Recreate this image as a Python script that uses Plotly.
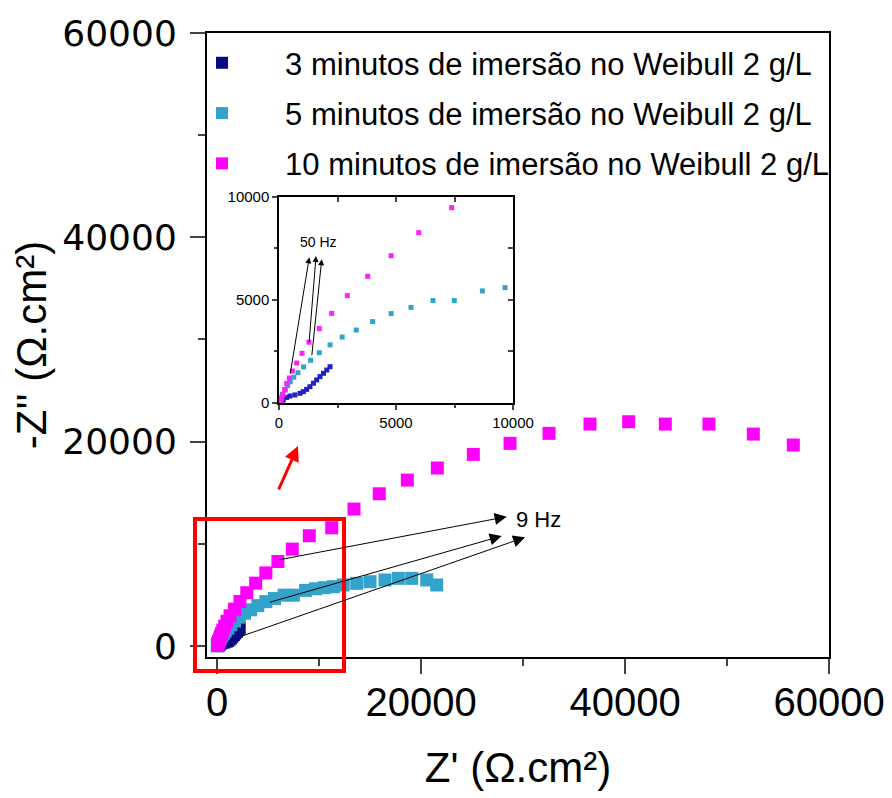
import plotly.graph_objects as go

# ---- data (Z', -Z'') in ohm.cm2 ----
names = ["3 minutos de imersão no Weibull 2 g/L",
         "5 minutos de imersão no Weibull 2 g/L",
         "10 minutos de imersão no Weibull 2 g/L"]

x3 = [50, 110, 180, 330, 470, 680, 900, 1040, 1180, 1320, 1470, 1610, 1750, 1900, 2040, 2180]
y3 = [20, 60, 150, 270, 340, 390, 470, 550, 660, 790, 960, 1120, 1280, 1440, 1600, 1760]

x5 = [20, 70, 140, 270, 370, 480, 630, 810, 1050, 1350, 1720, 2180, 2700, 3300, 4000, 4790,
      5640, 6580, 7490, 8690, 9660, 10500, 11400, 12380, 13700, 15000, 16470, 17780, 19090,
      20560, 21540]
y5 = [70, 230, 420, 630, 840, 1030, 1250, 1470, 1750, 2070, 2440, 2820, 3200, 3540, 3950, 4340,
      4640, 4970, 4970, 5440, 5600, 5700, 5800, 5970, 6130, 6290, 6460, 6620, 6620,
      6460, 5970]

x10 = [70, 115, 170, 240, 330, 440, 570, 755, 983, 1280, 1720, 2250, 2920, 3790, 4790, 5970,
       7380, 9050, 11250, 13430, 15910, 18660, 21600, 25130, 28730, 32550, 36570, 40360,
       43950, 48230, 52580, 56500]
y10 = [70, 230, 420, 660, 950, 1210, 1550, 1940, 2410, 2950, 3610, 4350, 5210, 6150, 7150, 8270,
       9480, 10790, 11570, 13400, 14900, 16240, 17420, 18750, 19830, 20810, 21720, 21950,
       21720, 21720, 20740, 19670]

xs = [x3, x5, x10]
ys = [y3, y5, y10]
colors_main = ["#0a0a80", "#33a3cc", "#ff00ff"]
colors_inset = ["#2020c0", "#33a3cc", "#ff20ff"]

main_ticks = [0, 20000, 40000, 60000]
inset_ticks = [0, 5000, 10000]

fig = go.Figure()

NB = "\u00a0" * 5
for xv, yv, c, n in zip(xs, ys, colors_main, names):
    fig.add_trace(go.Scatter(x=xv, y=yv, mode="markers", name=NB + n,
                             marker=dict(symbol="square", size=13, color=c),
                             legendgroup=n, xaxis="x", yaxis="y"))
for xv, yv, c, n in zip(xs, ys, colors_inset, names):
    fig.add_trace(go.Scatter(x=xv, y=yv, mode="markers", showlegend=False,
                             marker=dict(symbol="square", size=5, color=c),
                             xaxis="x2", yaxis="y2"))
# empty trace to activate mirrored inset axes (top/right, ticks inside)
fig.add_trace(go.Scatter(x=[], y=[], showlegend=False, xaxis="x3", yaxis="y3"))

fig.update_layout(
    width=884, height=790,
    margin=dict(l=199, r=63, t=25, b=141, autoexpand=False),
    paper_bgcolor="white", plot_bgcolor="white",
    showlegend=True,
    legend=dict(x=-0.008, y=0.995, xanchor="left", yanchor="top",
                bgcolor="rgba(0,0,0,0)", borderwidth=0,
                font=dict(family="Liberation Sans, Arial", size=31, color="black"),
                tracegroupgap=7, itemsizing="constant"),
    xaxis=dict(range=[-980, 60000], tickvals=main_ticks, tickformat="d", ticks="outside",
               ticklen=15, tickwidth=2, showline=True, linewidth=2, linecolor="black",
               mirror=True, showgrid=False, zeroline=False, automargin=False,
               ticklabelstandoff=-6,
               tickfont=dict(family="Liberation Sans, Arial", size=40, color="black"),
               minor=dict(dtick=10000, ticks="outside", ticklen=7, tickwidth=2, tick0=0),
               title=dict(text="Z' (Ω.cm²)", standoff=30,
                          font=dict(family="Liberation Sans, Arial", size=42, color="black"))),
    yaxis=dict(range=[-1080, 60000], tickvals=main_ticks, tickformat="d", ticks="outside",
               ticklen=15, tickwidth=2, showline=True, linewidth=2, linecolor="black",
               mirror=True, showgrid=False, zeroline=False, automargin=False,
               ticklabelstandoff=6,
               tickfont=dict(family="DejaVu Sans", size=36, color="black"),
               minor=dict(dtick=10000, ticks="outside", ticklen=7, tickwidth=2, tick0=0),
               title=dict(text="-Z'' (Ω.cm²)", standoff=4,
                          font=dict(family="Liberation Sans, Arial", size=42, color="black"))),
    xaxis2=dict(domain=[0.1158, 0.4920], anchor="y2", range=[0, 10000], tickvals=inset_ticks,
                tickformat="d", ticks="outside", ticklen=5, tickwidth=1.5, showline=True,
                linewidth=1.5, linecolor="black", showgrid=False, zeroline=False,
                automargin=False,
                tickfont=dict(family="Liberation Sans, Arial", size=15, color="black"),
                minor=dict(dtick=2500, ticks="outside", ticklen=3, tickwidth=1.5)),
    yaxis2=dict(domain=[0.4071, 0.7372], anchor="x2", range=[0, 10000], tickvals=inset_ticks,
                tickformat="d", ticks="outside", ticklen=5, tickwidth=1.5, showline=True,
                linewidth=1.5, linecolor="black", showgrid=False, zeroline=False,
                automargin=False,
                tickfont=dict(family="Liberation Sans, Arial", size=15, color="black"),
                minor=dict(dtick=2500, ticks="outside", ticklen=3, tickwidth=1.5)),
    xaxis3=dict(overlaying="x2", side="top", anchor="y3", range=[0, 10000],
                tickvals=[2500, 5000, 7500], ticks="inside", ticklen=5, tickwidth=1.5,
                showticklabels=False, showline=True, linewidth=1.5, linecolor="black",
                showgrid=False, zeroline=False, automargin=False),
    yaxis3=dict(overlaying="y2", side="right", anchor="x3", range=[0, 10000],
                tickvals=[2500, 5000, 7500], ticks="inside", ticklen=5, tickwidth=1.5,
                showticklabels=False, showline=True, linewidth=1.5, linecolor="black",
                showgrid=False, zeroline=False, automargin=False),
)

# inset background
fig.add_shape(type="rect", xref="x2 domain", yref="y2 domain", x0=0, x1=1, y0=0, y1=1,
              fillcolor="white", line=dict(width=0), layer="below")

# red zoom box and arrow
fig.add_shape(type="rect", xref="paper", yref="paper", x0=-0.0193, x1=0.2203,
              y0=-0.0224, y1=0.2212, line=dict(color="#ff0000", width=4))
fig.add_annotation(x=7940, y=19570, ax=5980, ay=15170, xref="x", yref="y",
                   axref="x", ayref="y", showarrow=True, arrowhead=2, arrowsize=1,
                   arrowwidth=3, arrowcolor="#ff0000", text="")

# 9 Hz arrows (main)
arrows_main = [((28400, 12650), (5910, 8400)),
               ((27910, 10760), (5030, 4240)),
               ((30200, 10640), (2255, 900))]
for (hx, hy), (tx, ty) in arrows_main:
    fig.add_annotation(x=hx, y=hy, ax=tx, ay=ty, xref="x", yref="y", axref="x", ayref="y",
                       showarrow=True, arrowhead=2, arrowsize=2.4, arrowwidth=1,
                       arrowcolor="black", text="")
fig.add_annotation(x=31500, y=12400, xref="x", yref="y", text="9 Hz", showarrow=False,
                   xanchor="center", font=dict(family="Liberation Sans, Arial", size=22, color="black"))

# 50 Hz arrows (inset)
arrows_inset = [((1295, 7073), (470, 1360)),
                ((1581, 7136), (1282, 2898)),
                ((1825, 6976), (1397, 2248))]
for (hx, hy), (tx, ty) in arrows_inset:
    fig.add_annotation(x=hx, y=hy, ax=tx, ay=ty, xref="x2", yref="y2", axref="x2", ayref="y2",
                       showarrow=True, arrowhead=2, arrowsize=1.2, arrowwidth=1,
                       arrowcolor="black", text="")
fig.add_annotation(x=1697, y=7830, xref="x2", yref="y2", text="50 Hz", showarrow=False,
                   font=dict(family="Liberation Sans, Arial", size=14, color="black"))

fig.write_html("out.html")
